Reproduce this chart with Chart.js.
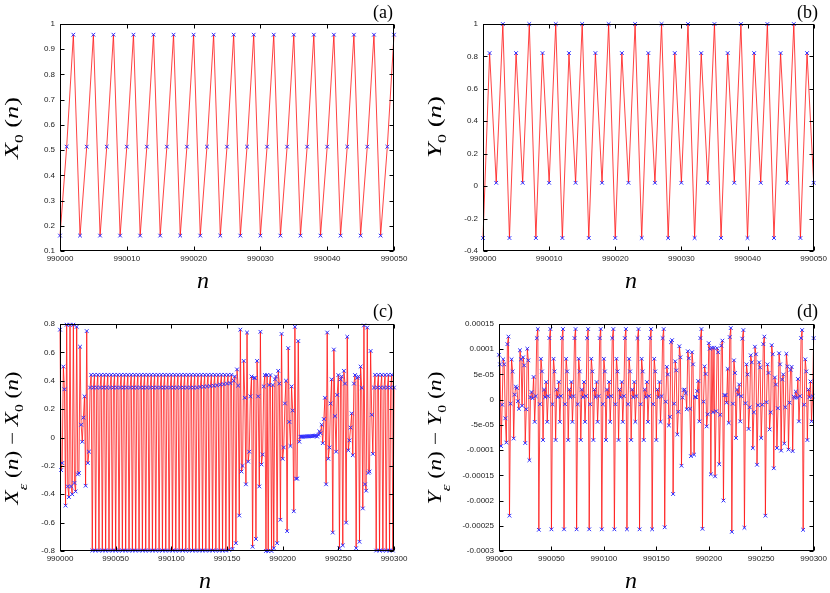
<!DOCTYPE html>
<html><head><meta charset="utf-8">
<script src="https://cdn.jsdelivr.net/npm/chart.js@4.4.1/dist/chart.umd.min.js"></script>
<style>
html,body{margin:0;padding:0;background:#fff;}
#wrap{position:relative;width:830px;height:593px;overflow:hidden;background:#fff;}
canvas{position:absolute;}
</style></head><body>
<div id="wrap">
<canvas id="ca" width="415" height="295" style="left:0;top:0"></canvas>
<canvas id="cb" width="415" height="295" style="left:415px;top:0"></canvas>
<canvas id="cc" width="415" height="298" style="left:0;top:295px"></canvas>
<canvas id="cd" width="415" height="298" style="left:415px;top:295px"></canvas>
</div>
<script>
// ---------------- data ----------------
const nStart = 990000;

// (a) X0(n), n = 990000..990050
const x0Values = [
0.161,0.5135,0.9576, 0.161,0.5135,0.9576, 0.161,0.5135,0.9576, 0.161,0.5135,0.9576,
0.161,0.5135,0.9576, 0.161,0.5135,0.9576, 0.161,0.5135,0.9576, 0.161,0.5135,0.9576,
0.161,0.5135,0.9576, 0.161,0.5135,0.9576, 0.161,0.5135,0.9576, 0.161,0.5135,0.9576,
0.161,0.5135,0.9576, 0.161,0.5135,0.9576, 0.161,0.5135,0.9576, 0.161,0.5135,0.9576,
0.161,0.5135,0.9576];

// (b) Y0(n), n = 990000..990050
const y0Values = [
-0.32,0.8206,0.0206,1.0, -0.32,0.8206,0.0206,1.0, -0.32,0.8206,0.0206,1.0, -0.32,0.8206,0.0206,1.0,
-0.32,0.8206,0.0206,1.0, -0.32,0.8206,0.0206,1.0, -0.32,0.8206,0.0206,1.0, -0.32,0.8206,0.0206,1.0,
-0.32,0.8206,0.0206,1.0, -0.32,0.8206,0.0206,1.0, -0.32,0.8206,0.0206,1.0, -0.32,0.8206,0.0206,1.0,
-0.32,0.8206,0.0206];

// (c) Xe(n) - X0(n), n = 990000..990300 (pieces)
const dXStart = [0.76,-0.23,-0.18,0.50,0.34,-0.48,0.795,-0.345,-0.42,0.795,-0.345,-0.40,0.795,-0.32,-0.38,0.78,-0.26,-0.25,0.64,0.09,-0.03,0.14,0.29,-0.34,0.75,-0.18,-0.10];
const dXLocked1 = [
0.352,0.442,-0.797, 0.352,0.442,-0.797, 0.352,0.442,-0.797, 0.352,0.442,-0.797, 0.352,0.442,-0.797,
0.352,0.442,-0.797, 0.352,0.442,-0.797, 0.352,0.442,-0.797, 0.352,0.442,-0.797, 0.352,0.442,-0.797,
0.352,0.442,-0.797, 0.352,0.442,-0.797, 0.352,0.442,-0.797, 0.352,0.442,-0.797, 0.352,0.442,-0.797,
0.352,0.442,-0.797, 0.352,0.442,-0.797, 0.352,0.442,-0.797, 0.352,0.442,-0.797, 0.352,0.442,-0.797,
0.352,0.442,-0.797, 0.352,0.442,-0.797, 0.352,0.442,-0.797, 0.352,0.442,-0.797, 0.352,0.442,-0.797,
0.352,0.442,-0.797, 0.352,0.442,-0.797, 0.352,0.442,-0.797, 0.352,0.442,-0.797, 0.352,0.442,-0.797,
0.352,0.442,-0.797, 0.352,0.442,-0.797, 0.352,0.442,-0.797,
0.356,0.442,-0.797, 0.358,0.442,-0.797, 0.360,0.442,-0.797, 0.362,0.442,-0.797,
0.365,0.442,-0.797, 0.368,0.442,-0.797, 0.372,0.442,-0.797, 0.376,0.442,-0.797];
const dXUnlock = [0.38,0.442,-0.793,0.383,0.442,-0.785,0.40,0.43,-0.745,0.48];
const dXChaos1 = [0.366,-0.55,0.76,-0.24,-0.20,0.54,0.28,-0.33,0.74,-0.17,-0.10,0.29,0.43,-0.77,0.42,0.42,-0.715,0.54,0.29,-0.345,0.745,-0.19,-0.12,0.36,0.44,-0.8,0.44,-0.8,0.37,0.44,-0.8,0.37,-0.78,0.41,0.43,-0.745,0.47,0.38,-0.58,0.73,-0.15,-0.07,0.24,0.40,-0.66,0.63,0.11,-0.06,0.36,0.19,-0.52,0.78,-0.29,-0.29,0.68,-0.03];
const dXNearZero = [0.005,0.006,0.006,0.007,0.007,0.007,0.008,0.008,0.009,0.009,0.010,0.010,0.011,0.012,0.014,0.006,0.02,0.044,0.03];
const dXChaos2 = [0.09,-0.04,0.13,0.28,-0.33,0.74,-0.15,-0.07,0.24,0.41,-0.67,0.62,0.15,-0.10,0.30,0.44,-0.78,0.41,0.43,-0.76,0.47,0.38,-0.60,0.71,-0.09,-0.02,0.07,0.17,-0.125,0.38,0.44,-0.78,0.42,0.43,-0.735,0.50,0.35,-0.50,0.79,-0.33,-0.375,0.775,-0.25,-0.24,0.61,0.16,-0.115];
const dXLocked2 = [0.352,0.442,-0.797, 0.352,0.442,-0.797, 0.352,0.442,-0.797, 0.352,0.442,-0.797, 0.352,0.442,-0.797, 0.352,0.442,-0.797, 0.352];

// (d) Ye(n) - Y0(n), in units of 1e-5, n = 990000..990300 (pieces)
const dYUnit = 1e-5;
const dYStart = [8.9,7.0,-9.2,-1.0,8.0,7.0,-3.7,-8.5,11.0,12.5,-23.0,-0.8,8.0,5.6,-7.7,1.0,2.6,2.3,-0.3,-1.8,9.8,8.0,-1.2,8.4,6.8,-8.6,-1.9,10.1,7.8,-12.0,0.5,1.5,0.3,4.5,-4.4,0.7,12.2,14.0,-25.8];
const dYCycle = [
-0.9,8.1,5.6,-8.0,2.0,0.5,3.5,-4.4,0.7,12.2,14.0,-25.7,
-0.9,8.1,5.6,-8.0,2.0,0.5,3.5,-4.4,0.7,12.2,14.0,-25.7,
-0.9,8.1,5.6,-8.0,2.0,0.5,3.5,-4.4,0.7,12.2,14.0,-25.7,
-0.9,8.1,5.6,-8.0,2.0,0.5,3.5,-4.4,0.7,12.2,14.0,-25.7,
-0.9,8.1,5.6,-8.0,2.0,0.5,3.5,-4.4,0.7,12.2,14.0,-25.7,
-0.9,8.1,5.6,-8.0,2.0,0.5,3.5,-4.4,0.7,12.2,14.0,-25.7,
-0.9,8.1,5.6,-8.0,2.0,0.5,3.5,-4.4,0.7,12.2,14.0,-25.7,
-0.9,8.1,5.6,-8.0,2.0,0.5,3.5,-4.4,0.7,12.2,14.0,-25.7,
-0.9,8.1,5.6,-8.0,2.0,0.5,3.5,-4.4,0.7,12.2,14.0,-25.7,
-0.9,8.1,5.6,-8.0,2.0,0.5,3.5,-4.4,0.7,12.2,14.0];
const dYDrift1 = [-25.3,-0.4,6.5,5.0,-5.1,-3.4,11.4,11.8,-18.7,-0.8,7.6,5.8,-6.9,-2.4,10.6,8.4,-13.1,0.4,1.9,2.0,1.3,-1.9,9.6,8.2,-1.8,-11.2,9.4,7.0,-10.9,0.5,0.5,1.7,3.7,-4.3,12.2,14.0,-25.6];
const dYDrift2 = [-0.4,6.6,5.1,-5.3,-2.9,11.2,10.1,-14.8,10.3,-2.5,10.3,-15.2,-2.3,10.2,9.4,-12.8,-3.0,10.7,11.7,-20.0,0.9,0.9,-0.6,6.1,-4.6,12.4,14.2];
const dYCycle2 = [-26.2,-0.8,7.8,5.3,-7.6,2.0,1.0,3.0,-4.3,0.7,12.1,13.8,-25.4];
const dYDrift3 = [-0.7,7.0,5.0,-5.8,-1.5,8.8,7.4,-9.6,-2.5,10.5,9.0,-12.9,-1.1,7.4,6.4,-7.6,-1.0,11.0,12.5,-23.0,-0.5,7.0,5.3,-5.9,-2.5,10.8,9.0,-13.6,4.4,3.0,-9.6,-1.7,9.2,7.0,-10.1,4.0,5.0,-8.7,-1.5,9.1,6.6,-9.9,-0.6,5.9,6.5,-10.2,0.6,0.4,1.6,0.4,4.1,-4.3,0.7,12.2,13.8];
const dYEnd = [-25.8,-1.0,8.0,5.6,-8.0,2.0,0.5,3.6,-4.3,0.7,12.2];

const dXValues = [...dXStart, ...dXLocked1, ...dXUnlock, ...dXChaos1, ...dXNearZero, ...dXChaos2, ...dXLocked2];
const dYValues = [...dYStart, ...dYCycle, ...dYDrift1, ...dYDrift2, ...dYCycle2, ...dYDrift3, ...dYEnd].map(v => v * dYUnit);

// tick values and labels
const xTicksAB = [990000,990010,990020,990030,990040,990050];
const xLabelsAB = ['990000','990010','990020','990030','990040','990050'];
const xTicksCD = [990000,990050,990100,990150,990200,990250,990300];
const xLabelsCD = ['990000','990050','990100','990150','990200','990250','990300'];
const yTicksA = [0.1,0.2,0.3,0.4,0.5,0.6,0.7,0.8,0.9,1];
const yLabelsA = ['0.1','0.2','0.3','0.4','0.5','0.6','0.7','0.8','0.9','1'];
const yTicksB = [-0.4,-0.2,0,0.2,0.4,0.6,0.8,1];
const yLabelsB = ['-0.4','-0.2','0','0.2','0.4','0.6','0.8','1'];
const yTicksC = [-0.8,-0.6,-0.4,-0.2,0,0.2,0.4,0.6,0.8];
const yLabelsC = ['-0.8','-0.6','-0.4','-0.2','0','0.2','0.4','0.6','0.8'];
const yTicksD = [-0.0003,-0.00025,-0.0002,-0.00015,-0.0001,-0.00005,0,0.00005,0.0001,0.00015];
const yLabelsD = ['-0.0003','-0.00025','-0.0002','-0.00015','-0.0001','-5e-05','0','5e-05','0.0001','0.00015'];

// ---------------- drawing ----------------
const SERIF = "'Liberation Serif','Times New Roman',serif";
const SANS = "'Liberation Sans Narrow','Liberation Sans',Arial,sans-serif";

function drawRich(ctx, parts, x, y, rot, targetLen) {
  ctx.save();
  let W = 0;
  parts.forEach(p => { ctx.font = p.f; p.w = ctx.measureText(p.t).width; W += p.w; });
  const s = targetLen ? targetLen / W : 1;
  ctx.translate(x, y);
  if (rot) ctx.rotate(-Math.PI / 2);
  ctx.scale(s, 1);
  ctx.fillStyle = '#000';
  ctx.textAlign = 'left';
  ctx.textBaseline = 'alphabetic';
  let cx = -W / 2;
  parts.forEach(p => { ctx.font = p.f; ctx.fillText(p.t, cx, p.dy || 0); cx += p.w; });
  ctx.restore();
}

const fI = 'italic 18px ' + SERIF, fR = '18px ' + SERIF, fS = '12px ' + SERIF, fSI = 'italic 13px ' + SERIF;
function sym(letter, sub, subItalic, dy) {
  return [{t: letter, f: fI}, {t: sub, f: subItalic ? fSI : fS, dy: dy}, {t: ' (', f: fR}, {t: 'n', f: fI}, {t: ')', f: fR}];
}

const decor = {
  id: 'decor',
  afterDraw(chart, args, o) {
    const ctx = chart.ctx, a = chart.chartArea;
    const xs = chart.scales.x, ys = chart.scales.y;
    ctx.save();
    ctx.strokeStyle = '#000';
    ctx.lineWidth = 1;
    const L = Math.round(a.left) + 0.5, R = Math.round(a.right) - 0.5;
    const T = Math.round(a.top) + 0.5, B = Math.round(a.bottom) - 0.5;
    ctx.strokeRect(L, T, R - L, B - T);
    ctx.beginPath();
    xs.ticks.forEach(t => {
      const px = Math.round(xs.getPixelForValue(t.value)) + 0.5;
      ctx.moveTo(px, B); ctx.lineTo(px, B - 4);
      ctx.moveTo(px, T); ctx.lineTo(px, T + 4);
    });
    ys.ticks.forEach(t => {
      const py = Math.round(ys.getPixelForValue(t.value)) + 0.5;
      ctx.moveTo(L, py); ctx.lineTo(L + 4, py);
      ctx.moveTo(R, py); ctx.lineTo(R - 4, py);
    });
    ctx.stroke();
    ctx.restore();
    drawRich(ctx, o.yTitle, o.yTitleX, o.yTitleY, true, o.yTitleLen);
    drawRich(ctx, [{t: 'n', f: 'italic 24px ' + SERIF}], o.nX, o.nY, false);
    ctx.save();
    ctx.font = '18px ' + SERIF;
    ctx.fillStyle = '#000';
    ctx.textAlign = 'right';
    ctx.textBaseline = 'alphabetic';
    ctx.fillText(o.letter, o.letterX, o.letterY);
    ctx.restore();
  }
};

function makePanel(id, cfg) {
  const canvas = document.getElementById(id);
  const W = canvas.width, H = canvas.height, ar = cfg.area;
  const tickFont = {family: SANS, size: 8};
  return new Chart(canvas.getContext('2d'), {
    type: 'line',
    data: {datasets: [{
      data: cfg.values.map((v, i) => ({x: nStart + i, y: v})),
      borderColor: 'rgba(255,20,20,0.8)', borderWidth: 1, tension: 0, fill: false,
      pointStyle: 'crossRot', pointRadius: 2.6, pointBorderWidth: 1,
      pointBorderColor: 'rgb(45,45,255)', pointBackgroundColor: 'rgb(45,45,255)',
      clip: false
    }]},
    options: {
      responsive: false, animation: false, events: [], devicePixelRatio: 1,
      layout: {padding: {left: 0, top: ar.t, right: W - ar.r, bottom: 0}},
      plugins: {legend: {display: false}, tooltip: {enabled: false}, decor: cfg.decor},
      scales: {
        x: {type: 'linear', min: cfg.xTicks[0], max: cfg.xTicks[cfg.xTicks.length - 1],
            grid: {display: false, drawTicks: false}, border: {display: false},
            ticks: {font: tickFont, color: '#222', padding: 3, maxRotation: 0, autoSkip: false,
                    callback: (v, i) => cfg.xLabels[i]},
            afterBuildTicks: s => { s.ticks = cfg.xTicks.map(v => ({value: v})); },
            afterFit: s => { s.height = H - ar.b; }},
        y: {type: 'linear', min: cfg.yTicks[0], max: cfg.yTicks[cfg.yTicks.length - 1],
            grid: {display: false, drawTicks: false}, border: {display: false},
            ticks: {font: tickFont, color: '#222', padding: 5, autoSkip: false,
                    callback: (v, i) => cfg.yLabels[i]},
            afterBuildTicks: s => { s.ticks = cfg.yTicks.map(v => ({value: v})); },
            afterFit: s => { s.width = ar.l; }}
      }
    },
    plugins: [decor]
  });
}

makePanel('ca', {values: x0Values, xTicks: xTicksAB, xLabels: xLabelsAB, yTicks: yTicksA, yLabels: yLabelsA,
  area: {l: 60, t: 24, r: 394, b: 251},
  decor: {yTitle: sym('X', '0', false, 5), yTitleX: 18, yTitleY: 128, yTitleLen: 62,
          nX: 203, nY: 288, letter: '(a)', letterX: 393, letterY: 18}});
makePanel('cb', {values: y0Values, xTicks: xTicksAB, xLabels: xLabelsAB, yTicks: yTicksB, yLabels: yLabelsB,
  area: {l: 68, t: 24, r: 401, b: 251},
  decor: {yTitle: sym('Y', '0', false, 5), yTitleX: 26, yTitleY: 127, yTitleLen: 62,
          nX: 216, nY: 288, letter: '(b)', letterX: 403, letterY: 18}});
makePanel('cc', {values: dXValues, xTicks: xTicksCD, xLabels: xLabelsCD, yTicks: yTicksC, yLabels: yLabelsC,
  area: {l: 60, t: 29, r: 394, b: 256},
  decor: {yTitle: [...sym('X', '\u03b5', true, 9), {t: ' \u2212 ', f: fR}, ...sym('X', '0', false, 5)],
          yTitleX: 18, yTitleY: 143, yTitleLen: 133,
          nX: 205, nY: 293, letter: '(c)', letterX: 393, letterY: 22}});
makePanel('cd', {values: dYValues, xTicks: xTicksCD, xLabels: xLabelsCD, yTicks: yTicksD, yLabels: yLabelsD,
  area: {l: 84, t: 29, r: 401, b: 256},
  decor: {yTitle: [...sym('Y', '\u03b5', true, 9), {t: ' \u2212 ', f: fR}, ...sym('Y', '0', false, 5)],
          yTitleX: 26, yTitleY: 143, yTitleLen: 133,
          nX: 216, nY: 293, letter: '(d)', letterX: 403, letterY: 22}});
</script>
</body></html>
